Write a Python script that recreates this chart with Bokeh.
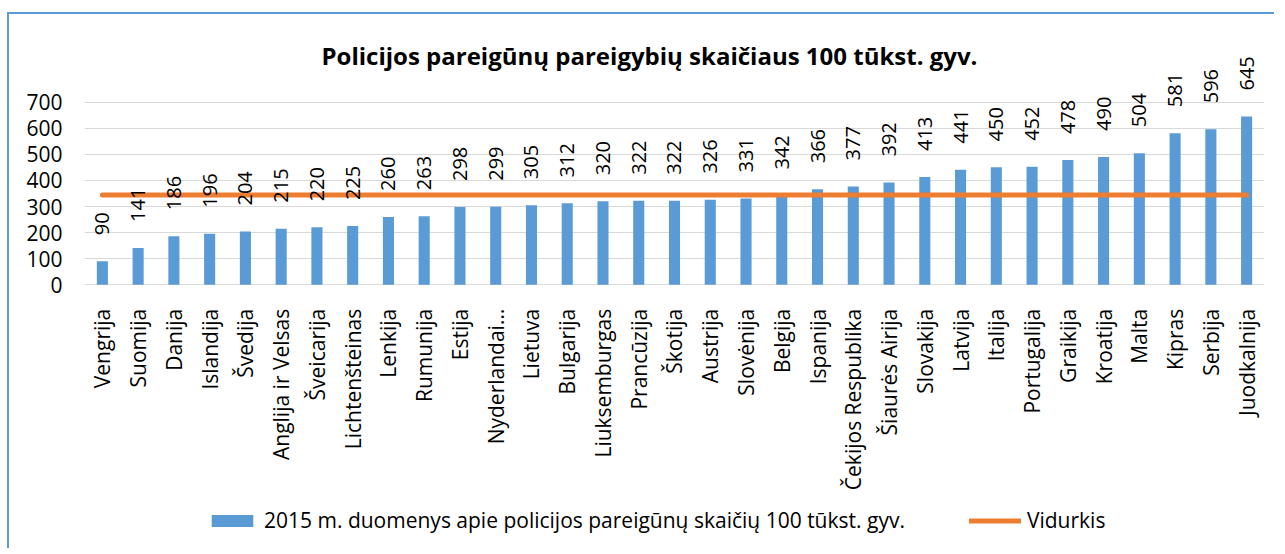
import math
from bokeh.plotting import figure
from bokeh.models import (ColumnDataSource, FactorRange, Range1d, FixedTicker, LabelSet,
                          Legend, LegendItem, Label)
from bokeh.core.properties import value
from bokeh.embed import file_html
from bokeh.resources import INLINE

categories = ["Vengrija", "Suomija", "Danija", "Islandija", "Švedija", "Anglija ir Velsas",
              "Šveicarija", "Lichtenšteinas", "Lenkija", "Rumunija", "Estija", "Nyderlandai…",
              "Lietuva", "Bulgarija", "Liuksemburgas", "Prancūzija", "Škotija", "Austrija",
              "Slovėnija", "Belgija", "Ispanija", "Čekijos Respublika", "Šiaurės Airija",
              "Slovakija", "Latvija", "Italija", "Portugalija", "Graikija", "Kroatija",
              "Malta", "Kipras", "Serbija", "Juodkalnija"]
values = [90, 141, 186, 196, 204, 215, 220, 225, 260, 263, 298, 299, 305, 312, 320, 322,
          322, 326, 331, 342, 366, 377, 392, 413, 441, 450, 452, 478, 490, 504, 581, 596, 645]
average = [344] * 33
y_ticks = [0, 100, 200, 300, 400, 500, 600, 700]

title_text = "Policijos pareigūnų pareigybių skaičiaus 100 tūkst. gyv."
bar_label = "2015 m. duomenys apie policijos pareigūnų skaičių 100 tūkst. gyv."
line_label = "Vidurkis"

BLUE = "#5b9bd5"
ORANGE = "#ed7d31"
FONT = "Open Sans"

src = ColumnDataSource(dict(cat=categories, val=values, avg=average,
                            lbl=[str(v) for v in values]))

# the frame also holds the category-label and legend band below the zero line
p = figure(x_range=FactorRange(factors=categories), y_range=Range1d(-1011, 955.5),
           frame_width=1180, frame_height=513, output_backend="svg", toolbar_location=None,
           min_border_left=75, min_border_right=10, min_border_top=21, min_border_bottom=0,
           styles={"margin-left": "7px", "margin-top": "12px",
                   "border-left": "2px solid #5b9bd5", "border-top": "2px solid #5b9bd5"})

p.outline_line_color = None
p.background_fill_color = "white"
p.border_fill_color = "white"

bars = p.vbar(x="cat", top="val", width=0.31, source=src, fill_color=BLUE, line_color=None)
avg_line = p.line(x="cat", y="avg", source=src, line_color=ORANGE, line_width=5, line_cap="round")

labels = LabelSet(x="cat", y="val", text="lbl", source=src, angle=math.pi / 2,
                  text_align="left", text_baseline="middle", y_offset=26,
                  text_font=value(FONT), text_font_size=value("20px"), text_color="black")
p.add_layout(labels)

cat_labels = LabelSet(x="cat", y=0, text="cat", source=src, angle=math.pi / 2,
                      text_align="right", text_baseline="middle", y_offset=-24,
                      text_font=value(FONT), text_font_size=value("21px"), text_color="black")
p.add_layout(cat_labels)

p.add_layout(Label(x=310, y=39, x_units="canvas", y_units="canvas", text=title_text,
                   text_align="left", text_baseline="middle", text_font=FONT,
                   text_font_size="24px", text_font_style="bold", text_color="black"))

p.xaxis.visible = False
p.xgrid.grid_line_color = None
p.ygrid.grid_line_color = "#d9d9d9"
p.ygrid.grid_line_width = 1
p.yaxis.ticker = FixedTicker(ticks=y_ticks)
p.yaxis.axis_line_color = None
p.yaxis.major_tick_line_color = None
p.yaxis.minor_tick_line_color = None
p.yaxis.major_tick_out = 0
p.yaxis.major_label_standoff = 22
p.yaxis.major_label_text_font = FONT
p.yaxis.major_label_text_font_size = "21px"
p.yaxis.major_label_text_color = "black"

legend = Legend(items=[LegendItem(label=bar_label, renderers=[bars]),
                       LegendItem(label=line_label, renderers=[avg_line])],
                orientation="horizontal", location=(122, 14),
                glyph_width=52, glyph_height=15, label_standoff=6, spacing=64,
                padding=0, margin=0, border_line_color=None, background_fill_alpha=0,
                label_text_font=FONT, label_text_font_size="21px", label_text_color="black")
p.add_layout(legend, "center")

open("out.html", "w").write(file_html(p, INLINE))
